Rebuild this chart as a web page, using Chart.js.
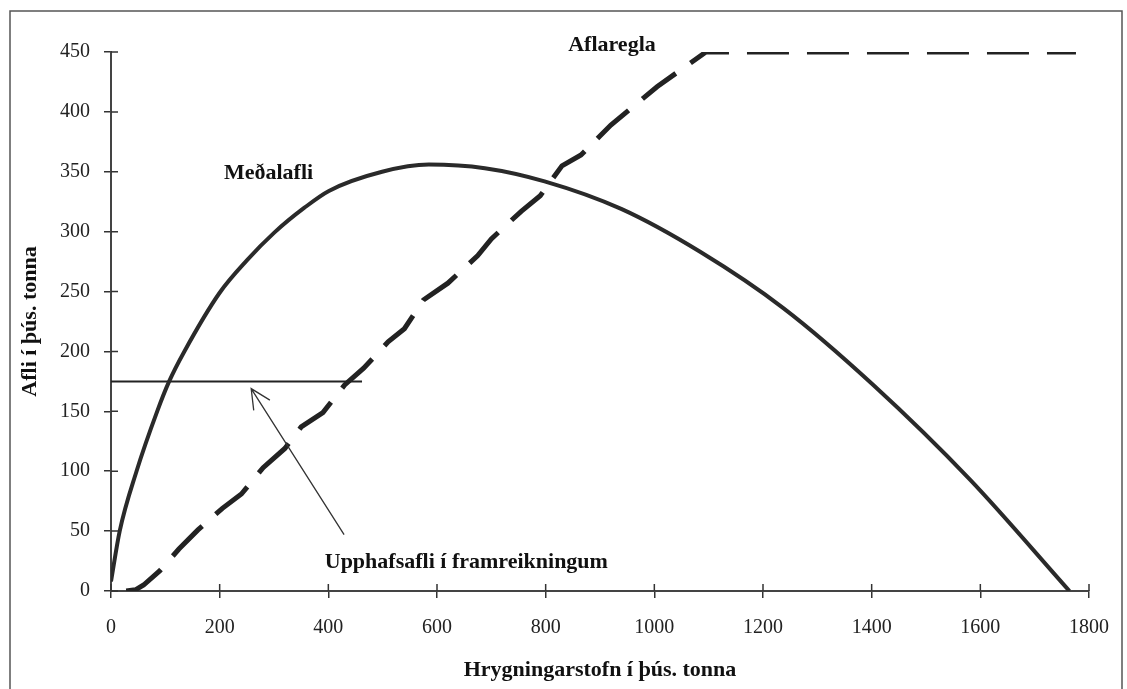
<!DOCTYPE html>
<html>
<head>
<meta charset="utf-8">
<script src="https://cdn.jsdelivr.net/npm/chart.js@4.4.1/dist/chart.umd.min.js"></script>
<style>
  body { margin: 0; background: #fff; }
  #wrap { width: 1127px; height: 689px; }
</style>
</head>
<body>
<div id="wrap"><canvas id="graf" width="1127" height="689"></canvas></div>
<script>
// Meðalafli (heil lína)
const medalX = [0, 16, 47, 85, 107, 135, 200, 250, 300, 356, 401, 499, 585, 688, 798, 939, 1085, 1238, 1403, 1581, 1764];
const medalY = [8, 50, 100, 150, 175, 200, 249, 276, 299, 320, 334, 350, 356, 353, 342, 319, 283, 236, 172, 93, 0];

// Aflaregla (brotin lína)
const reglaX = [28, 45, 60, 90, 125, 160, 205, 240, 280, 320, 350, 390, 430, 465, 510, 540, 575, 620, 675, 700, 755, 790, 830, 865, 920, 1005, 1095, 1776];
const reglaY = [0, 1, 5, 17, 35, 51, 69, 81, 103, 119, 137, 149, 172, 186, 208, 219, 243, 257, 280, 294, 317, 330, 355, 364, 389, 421, 450, 450];

// Upphafsafli í framreikningum
const upphafX = [0, 462];
const upphafY = [175, 175];
const orFra = [429, 47];   // ör: hali
const orTil = [258, 169];  // ör: oddur

// ásar
const xMin = 0, xMax = 1800, xStep = 200;
const yMin = 0, yMax = 450, yStep = 50;

// textar
const merkingar = [
  { texti: 'Meðalafli', x: 290, y: 349 },
  { texti: 'Aflaregla', x: 922, y: 456 },
  { texti: 'Upphafsafli í framreikningum', x: 654, y: 24 }
];

function punktar(xs, ys) {
  return xs.map((x, i) => ({ x: x, y: ys[i] }));
}

const teikning = {
  id: 'teikning',
  afterDatasetsDraw(chart) {
    const ctx = chart.ctx;
    const sx = chart.scales.x, sy = chart.scales.y;
    ctx.save();
    // innri hluti merkjanna á ásunum
    ctx.strokeStyle = '#333';
    ctx.lineWidth = 1.5;
    ctx.beginPath();
    for (let v = yMin; v <= yMax; v += yStep) {
      const p = sy.getPixelForValue(v);
      ctx.moveTo(sx.left, p); ctx.lineTo(sx.left + 7, p);
    }
    for (let v = xMin; v <= xMax; v += xStep) {
      const p = sx.getPixelForValue(v);
      ctx.moveTo(p, sy.bottom); ctx.lineTo(p, sy.bottom - 7);
    }
    ctx.stroke();

    // ör
    const x1 = sx.getPixelForValue(orFra[0]), y1 = sy.getPixelForValue(orFra[1]);
    const x2 = sx.getPixelForValue(orTil[0]), y2 = sy.getPixelForValue(orTil[1]);
    const a = Math.atan2(y2 - y1, x2 - x1);
    ctx.strokeStyle = '#333';
    ctx.lineWidth = 1.3;
    ctx.beginPath();
    ctx.moveTo(x1, y1); ctx.lineTo(x2, y2);
    ctx.moveTo(x2 - 22 * Math.cos(a - 0.45), y2 - 22 * Math.sin(a - 0.45));
    ctx.lineTo(x2, y2);
    ctx.lineTo(x2 - 22 * Math.cos(a + 0.45), y2 - 22 * Math.sin(a + 0.45));
    ctx.stroke();

    // textar
    ctx.fillStyle = '#111';
    ctx.font = 'bold 22px "Liberation Serif"';
    ctx.textAlign = 'center';
    ctx.textBaseline = 'middle';
    merkingar.forEach(m => {
      ctx.fillText(m.texti, sx.getPixelForValue(m.x), sy.getPixelForValue(m.y));
    });

    // rammi
    ctx.strokeStyle = '#555';
    ctx.lineWidth = 1.5;
    ctx.strokeRect(10, 11, 1112, 700);
    ctx.restore();
  }
};

new Chart(document.getElementById('graf'), {
  type: 'scatter',
  data: {
    datasets: [
      {
        label: 'Meðalafli',
        data: punktar(medalX, medalY),
        showLine: true,
        borderColor: '#2a2a2a',
        borderWidth: 4,
        pointRadius: 0,
        cubicInterpolationMode: 'monotone'
      },
      {
        label: 'Aflaregla',
        data: punktar(reglaX, reglaY),
        showLine: true,
        borderColor: '#222',
        borderWidth: 5,
        borderDash: [42, 18],
        borderCapStyle: 'butt',
        pointRadius: 0,
        tension: 0
      },
      {
        label: 'Upphafsafli',
        data: punktar(upphafX, upphafY),
        showLine: true,
        borderColor: '#222',
        borderWidth: 2,
        pointRadius: 0
      }
    ]
  },
  options: {
    responsive: false,
    animation: false,
    layout: { padding: { top: 52, right: 34, left: 0, bottom: 0 } },
    plugins: {
      legend: { display: false },
      tooltip: { enabled: false }
    },
    scales: {
      x: {
        type: 'linear',
        min: xMin, max: xMax,
        ticks: {
          stepSize: xStep, padding: 18, color: '#222',
          font: { family: 'Liberation Serif', size: 20 },
          callback: v => String(v)
        },
        grid: { drawOnChartArea: false, tickLength: 7, color: '#333', lineWidth: 1.5 },
        border: { color: '#444', width: 2 },
        title: {
          display: true,
          text: 'Hrygningarstofn í þús. tonna',
          color: '#111',
          font: { family: 'Liberation Serif', size: 22, weight: 'bold' },
          padding: { top: 0, bottom: 5 }
        },
        afterFit(s) { s.height = 98; }
      },
      y: {
        type: 'linear',
        min: yMin, max: yMax,
        ticks: {
          stepSize: yStep, padding: 14, color: '#222',
          font: { family: 'Liberation Serif', size: 20 },
          callback: v => String(v)
        },
        grid: { drawOnChartArea: false, tickLength: 7, color: '#333', lineWidth: 1.5 },
        border: { color: '#444', width: 2 },
        title: {
          display: true,
          text: 'Afli í þús. tonna',
          color: '#111',
          font: { family: 'Liberation Serif', size: 22, weight: 'bold' },
          padding: { top: 17, bottom: 0 }
        },
        afterFit(s) { s.width = 111; }
      }
    }
  },
  plugins: [teikning]
});
</script>
</body>
</html>
